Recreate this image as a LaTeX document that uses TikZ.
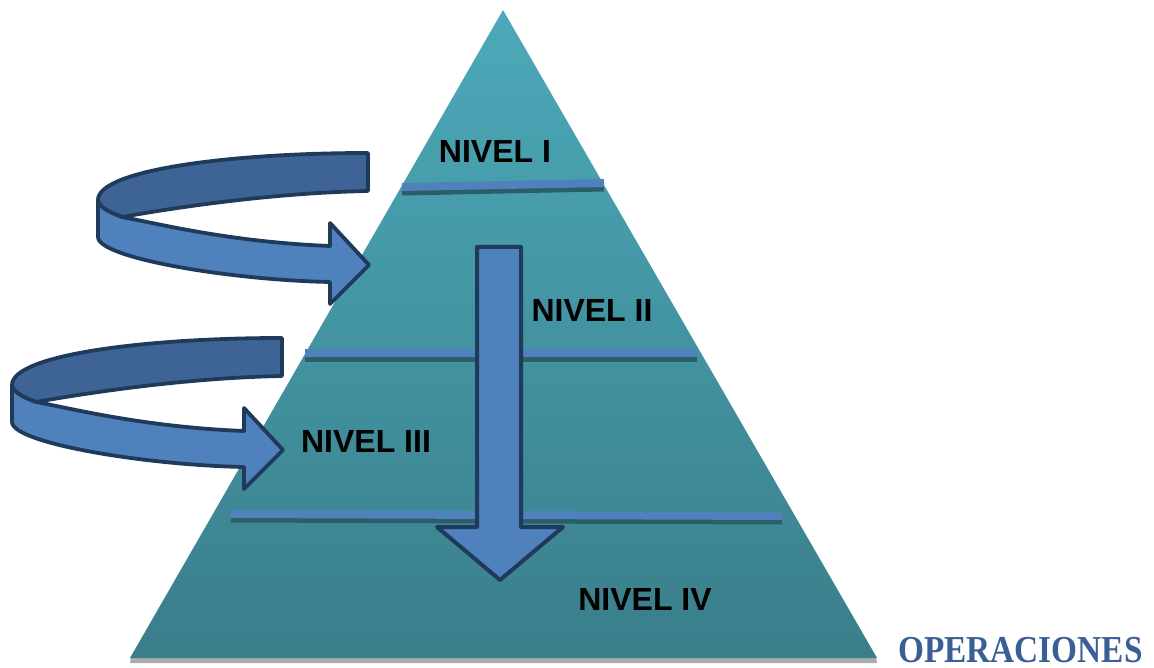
\documentclass[tikz,border=0pt]{standalone}
\usepackage{fontspec}
\setmainfont{Liberation Sans}
\newfontfamily\opsfont{Liberation Serif}
\begin{document}
\definecolor{tealtop}{HTML}{4CA9B9}
\definecolor{tealbot}{HTML}{3A7E8A}
\definecolor{ribbonfront}{HTML}{4F81BD}
\definecolor{ribbonback}{HTML}{3E6496}
\definecolor{ribbonline}{HTML}{203A5C}
\definecolor{bandshade}{HTML}{2B5E66}
\definecolor{opsblue}{HTML}{3A5E96}
\begin{tikzpicture}[x=1pt,y=-1pt,
  levelband/.style={line width=8pt,draw=ribbonfront},
  levelshade/.style={line width=5pt,draw=bandshade},
  ribbonfrontface/.style={fill=ribbonfront,draw=ribbonline,line width=3.8pt,line join=round},
  ribbonbackface/.style={fill=ribbonback,draw=ribbonline,line width=3.8pt,line join=round},
  levellabel/.style={font=\bfseries\fontsize{32}{36}\selectfont,text=black,inner sep=0pt}]
\useasboundingbox (0,0) rectangle (1154,668);

% pyramid with its floor shadow
\coordinate (apex) at (503,10);
\coordinate (baseL) at (130,658);
\coordinate (baseR) at (877,658);
\fill[gray!65] (131,656) -- (876,656) -- (877,663) -- (130,663) -- cycle;
\shade[top color=tealtop,bottom color=tealbot] (apex) -- (baseR) -- (baseL) -- cycle;

% level separators
\draw[levelshade] (402,193) -- (604,189);
\draw[levelband]  (402,187) -- (604,183);
\draw[levelshade] (305,359) -- (697,359);
\draw[levelband]  (305,353) -- (697,353);
\draw[levelshade] (231,520) -- (782,522);
\draw[levelband]  (231,514) -- (782,516);

% circular ribbon arrow
\newcommand{\spiralribbon}{%
  \path[ribbonbackface]
    (98,200) .. controls (98,170) and (230,153) .. (368,153)
    -- (368,191)
    .. controls (260,193) and (150,212) .. (122,217)
    .. controls (108,212) and (98,206) .. (98,200) -- cycle;
  \path[ribbonfrontface]
    (98,200) .. controls (98,206) and (108,212) .. (122,217)
    .. controls (160,224) and (230,242) .. (330,246)
    -- (330,223) -- (369,265) -- (330,304) -- (330,282)
    .. controls (230,280) and (98,258) .. (98,237) -- cycle;}
\begin{scope}
  \spiralribbon
\end{scope}
\begin{scope}[shift={(-86,185)}]
  \spiralribbon
\end{scope}

% downward arrow through the levels
\path[ribbonfrontface,line width=4pt]
  (477,247) -- (521,247) -- (521,527) -- (563,527) -- (500,580)
  -- (437,527) -- (477,527) -- cycle;

% labels
\node[levellabel] (n1) at (495,151) {NIVEL I};
\node[levellabel] (n2) at (592,310) {NIVEL II};
\node[levellabel] (n3) at (366,441) {NIVEL III};
\node[levellabel] (n4) at (645,599) {NIVEL IV};
\node[anchor=base west,inner sep=0pt,text=opsblue,xscale=0.98,yscale=1.12,
  font=\opsfont\bfseries\fontsize{34}{38}\selectfont] (ops) at (898,662) {OPERACIONES};
\end{tikzpicture}
\end{document}
